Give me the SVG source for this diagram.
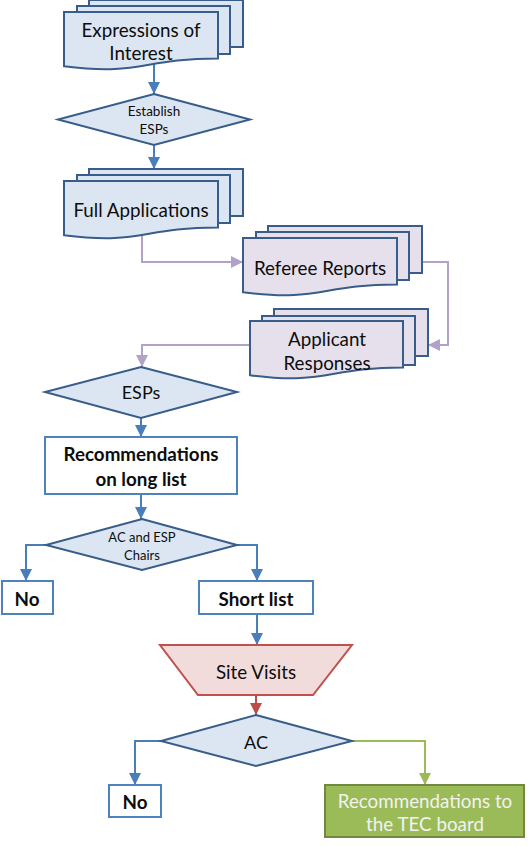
<svg xmlns="http://www.w3.org/2000/svg" width="530" height="847" viewBox="0 0 530 847">
<defs>
<style>
text{font-family:Lato,"Liberation Sans","DejaVu Sans",sans-serif;fill:#0d0d0d;text-anchor:middle;dominant-baseline:central}
.t{font-size:18.8px}
.doc{fill:#dce6f2;stroke:#385d8a;stroke-width:2}
.pdoc{fill:#e5e0ec;stroke:#385d8a;stroke-width:2}
.dia{fill:#dce6f2;stroke:#385d8a;stroke-width:2}
.box{fill:#ffffff;stroke:#4f81bd;stroke-width:2}
.b{font-weight:bold}
.cb{fill:none;stroke:#4a7ebb;stroke-width:2}
.cp{fill:none;stroke:#b3a2c7;stroke-width:2}
.cr{fill:none;stroke:#be4b48;stroke-width:2}
.cg{fill:none;stroke:#9bbb59;stroke-width:2}
</style>
<marker id="ab" markerUnits="userSpaceOnUse" markerWidth="12" markerHeight="12" viewBox="0 0 10 10" refX="10" refY="5" orient="auto"><path d="M0,0 L10,5 L0,10 Z" fill="#4a7ebb"/></marker>
<marker id="ap" markerUnits="userSpaceOnUse" markerWidth="12" markerHeight="12" viewBox="0 0 10 10" refX="10" refY="5" orient="auto"><path d="M0,0 L10,5 L0,10 Z" fill="#b3a2c7"/></marker>
<marker id="ar" markerUnits="userSpaceOnUse" markerWidth="12" markerHeight="12" viewBox="0 0 10 10" refX="10" refY="5" orient="auto"><path d="M0,0 L10,5 L0,10 Z" fill="#be4b48"/></marker>
<marker id="ag" markerUnits="userSpaceOnUse" markerWidth="12" markerHeight="12" viewBox="0 0 10 10" refX="10" refY="5" orient="auto"><path d="M0,0 L10,5 L0,10 Z" fill="#9bbb59"/></marker>
</defs>
<rect width="530" height="847" fill="#ffffff"/>
<g id="connectors">
<path class="cb" d="M154,64 V94" marker-end="url(#ab)"/>
<path class="cb" d="M154,145 V169" marker-end="url(#ab)"/>
<path class="cp" d="M142,232 V262 H243" marker-end="url(#ap)"/>
<path class="cp" d="M422,262 H448 V345 H428" marker-end="url(#ap)"/>
<path class="cp" d="M250,345 H142 V367" marker-end="url(#ap)"/>
<path class="cb" d="M141,418 V437" marker-end="url(#ab)"/>
<path class="cb" d="M141,494 V519" marker-end="url(#ab)"/>
<path class="cb" d="M46,545 H26 V581" marker-end="url(#ab)"/>
<path class="cb" d="M237,545 H257 V581" marker-end="url(#ab)"/>
<path class="cb" d="M257,614 V645" marker-end="url(#ab)"/>
<path class="cr" d="M256,695 V715" marker-end="url(#ar)"/>
<path class="cb" d="M161,741 H135 V785" marker-end="url(#ab)"/>
<path class="cg" d="M352,741 H425 V785" marker-end="url(#ag)"/>
</g>
<g id="expressions">
<rect class="doc" x="89" y="0" width="154" height="47"/>
<rect class="doc" x="77" y="6" width="153" height="48"/>
<path class="doc" d="M64,12 H218 V58.5 C141,58.5 141,76.2 64,66.2 Z"/>
<text class="t" x="141" y="29">Expressions of</text>
<text class="t" x="141" y="52">Interest</text>
</g>
<g id="establish">
<polygon class="dia" points="154,94 250,119.5 154,145 58,119.5"/>
<text x="154" y="111" font-size="13.5">Establish</text>
<text x="154" y="129" font-size="13.5">ESPs</text>
</g>
<g id="full-applications">
<rect class="doc" x="89" y="169" width="154" height="47"/>
<rect class="doc" x="77" y="175" width="153" height="48"/>
<path class="doc" d="M64,181 H218 V227.5 C141,227.5 141,245.2 64,235.2 Z"/>
<text class="t" x="141" y="209">Full Applications</text>
</g>
<g id="referee-reports">
<rect class="pdoc" x="268" y="226" width="154" height="47"/>
<rect class="pdoc" x="256" y="232" width="153" height="48"/>
<path class="pdoc" d="M243,238 H397 V284.5 C320,284.5 320,302.2 243,292.2 Z"/>
<text class="t" x="320" y="267">Referee Reports</text>
</g>
<g id="applicant-responses">
<rect class="pdoc" x="274" y="309" width="154" height="47"/>
<rect class="pdoc" x="262" y="316" width="153" height="49"/>
<path class="pdoc" d="M250,321 H403 V367.5 C326.5,367.5 326.5,385.2 250,375.2 Z"/>
<text class="t" x="327" y="338">Applicant</text>
<text class="t" x="327" y="362">Responses</text>
</g>
<g id="esps">
<polygon class="dia" points="141,367 237,392 141,418 45,392"/>
<text x="141" y="392" font-size="18">ESPs</text>
</g>
<g id="long-list">
<rect class="box" x="45" y="437" width="192" height="57"/>
<text class="t b" x="141" y="453">Recommendations</text>
<text class="t b" x="141" y="478">on long list</text>
</g>
<g id="ac-esp-chairs">
<polygon class="dia" points="142,519 237,545 142,570 46,545"/>
<text x="142" y="537" font-size="13">AC and ESP</text>
<text x="142" y="555" font-size="13">Chairs</text>
</g>
<g id="no-1">
<rect class="box" x="2" y="581" width="51" height="33"/>
<text class="t b" x="27" y="598">No</text>
</g>
<g id="short-list">
<rect class="box" x="199" y="581" width="114" height="33"/>
<text class="t b" x="256" y="598">Short list</text>
</g>
<g id="site-visits">
<polygon points="160,645 352,645 313,695 198,695" fill="#f2dcdb" stroke="#c0504d" stroke-width="2"/>
<text class="t" x="256" y="671">Site Visits</text>
</g>
<g id="ac">
<polygon class="dia" points="256,715 352,741 256,766 161,741"/>
<text x="256" y="742" font-size="18">AC</text>
</g>
<g id="no-2">
<rect class="box" x="109" y="785" width="52" height="32"/>
<text class="t b" x="135" y="801">No</text>
</g>
<g id="tec-board">
<rect x="325" y="785" width="199" height="52" fill="#9bbb59" stroke="#71893f" stroke-width="2"/>
<text class="t" x="425" y="800" style="fill:#f2f2f2">Recommendations to</text>
<text class="t" x="425" y="823" style="fill:#f2f2f2">the TEC board</text>
</g>
</svg>
